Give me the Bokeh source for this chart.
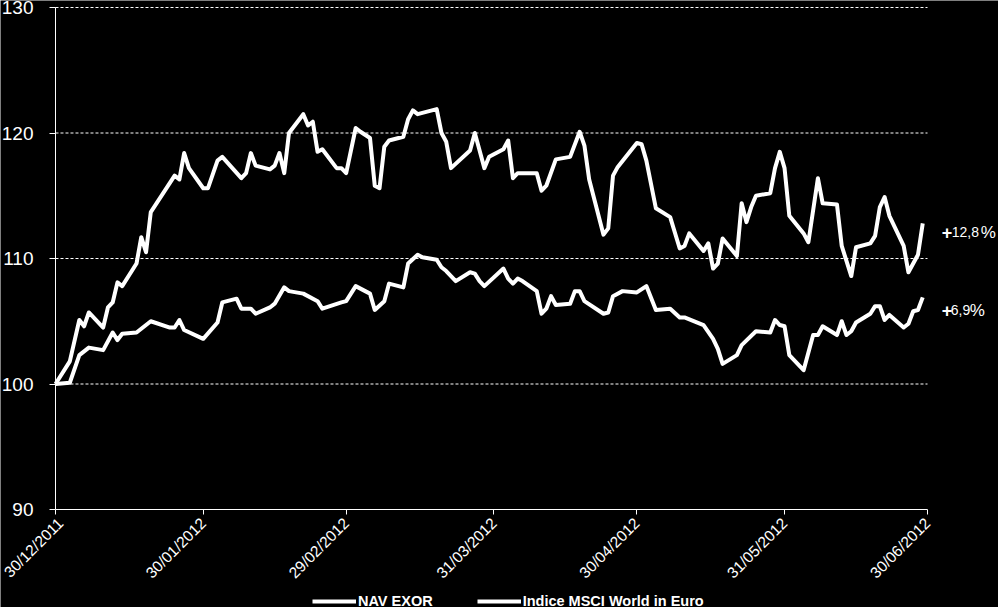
import math
import pandas as pd
from bokeh.plotting import figure
from bokeh.models import (Range1d, FixedTicker, DatetimeTickFormatter, Legend,
                          LegendItem, Label, ColumnDataSource)
from bokeh.embed import file_html
from bokeh.resources import INLINE

# ---------------- data ----------------
series_names = ["NAV EXOR", "Indice MSCI World in Euro"]

nav_dates = [
    "2011-12-30", "2012-01-02", "2012-01-04", "2012-01-05", "2012-01-06", "2012-01-09",
    "2012-01-10", "2012-01-11", "2012-01-12", "2012-01-13", "2012-01-16", "2012-01-17",
    "2012-01-18", "2012-01-19", "2012-01-24", "2012-01-25", "2012-01-26", "2012-01-27",
    "2012-01-30", "2012-01-31", "2012-02-02", "2012-02-03", "2012-02-07", "2012-02-08",
    "2012-02-09", "2012-02-10", "2012-02-13", "2012-02-14", "2012-02-15", "2012-02-16",
    "2012-02-17", "2012-02-20", "2012-02-21", "2012-02-22", "2012-02-23", "2012-02-24",
    "2012-02-27", "2012-02-28", "2012-02-29", "2012-03-02", "2012-03-03", "2012-03-05",
    "2012-03-06", "2012-03-07", "2012-03-08", "2012-03-09", "2012-03-12", "2012-03-13",
    "2012-03-14", "2012-03-15", "2012-03-19", "2012-03-20", "2012-03-21", "2012-03-22",
    "2012-03-26", "2012-03-27", "2012-03-28", "2012-03-29", "2012-03-30", "2012-04-02",
    "2012-04-03", "2012-04-04", "2012-04-05", "2012-04-09", "2012-04-10", "2012-04-11",
    "2012-04-13", "2012-04-16", "2012-04-18", "2012-04-19", "2012-04-20", "2012-04-23",
    "2012-04-24", "2012-04-25", "2012-04-26", "2012-04-30", "2012-05-01", "2012-05-02",
    "2012-05-04", "2012-05-07", "2012-05-09", "2012-05-10", "2012-05-11", "2012-05-14",
    "2012-05-15", "2012-05-16", "2012-05-17", "2012-05-18", "2012-05-21", "2012-05-22",
    "2012-05-23", "2012-05-24", "2012-05-25", "2012-05-28", "2012-05-29", "2012-05-30",
    "2012-05-31", "2012-06-01", "2012-06-04", "2012-06-05", "2012-06-07", "2012-06-08",
    "2012-06-11", "2012-06-12", "2012-06-14", "2012-06-15", "2012-06-18", "2012-06-19",
    "2012-06-20", "2012-06-21", "2012-06-22", "2012-06-25", "2012-06-26", "2012-06-28",
    "2012-06-29",
]
nav_values = [
    100.0, 101.8, 105.1, 104.6, 105.7, 104.5,
    106.1, 106.5, 108.1, 107.8, 109.6, 111.7,
    110.5, 113.7, 116.6, 116.3, 118.4, 117.2,
    115.6, 115.6, 117.8, 118.1, 116.4, 116.8,
    118.4, 117.4, 117.1, 117.4, 118.4, 116.8,
    120.0, 121.5, 120.6, 120.9, 118.5, 118.7,
    117.2, 117.2, 116.8, 120.4, 120.1, 119.6,
    115.8, 115.6, 118.9, 119.4, 119.7, 121.1,
    121.8, 121.5, 121.9, 120.0, 119.3, 117.2,
    118.6, 120.0, 118.6, 117.2, 118.1, 118.7,
    119.4, 116.4, 116.8, 116.8, 115.4, 115.8,
    117.9, 118.1, 120.1, 119.0, 116.3, 111.9,
    112.4, 116.6, 117.3, 119.2, 119.1, 117.8,
    114.0, 113.3, 110.8, 111.0, 112.0, 110.6,
    111.2, 109.2, 109.6, 111.6, 110.2, 114.4,
    112.9, 114.1, 115.0, 115.2, 117.2, 118.5,
    117.2, 113.4, 112.0, 111.3, 116.4, 114.4,
    114.3, 111.0, 108.6, 110.9, 111.2, 111.8,
    114.1, 114.9, 113.4, 111.0, 108.9, 110.3,
    112.8,
]

msci_dates = [
    "2011-12-30", "2012-01-02", "2012-01-04", "2012-01-06", "2012-01-09", "2012-01-11",
    "2012-01-12", "2012-01-13", "2012-01-16", "2012-01-19", "2012-01-23", "2012-01-24",
    "2012-01-25", "2012-01-26", "2012-01-30", "2012-02-02", "2012-02-03", "2012-02-06",
    "2012-02-07", "2012-02-09", "2012-02-10", "2012-02-13", "2012-02-14", "2012-02-16",
    "2012-02-17", "2012-02-20", "2012-02-23", "2012-02-24", "2012-02-28", "2012-02-29",
    "2012-03-02", "2012-03-05", "2012-03-06", "2012-03-08", "2012-03-09", "2012-03-12",
    "2012-03-13", "2012-03-15", "2012-03-16", "2012-03-19", "2012-03-20", "2012-03-21",
    "2012-03-23", "2012-03-26", "2012-03-27", "2012-03-28", "2012-03-29", "2012-04-02",
    "2012-04-03", "2012-04-04", "2012-04-05", "2012-04-06", "2012-04-09", "2012-04-10",
    "2012-04-11", "2012-04-12", "2012-04-13", "2012-04-16", "2012-04-17", "2012-04-18",
    "2012-04-19", "2012-04-23", "2012-04-24", "2012-04-25", "2012-04-27", "2012-04-30",
    "2012-05-02", "2012-05-04", "2012-05-07", "2012-05-09", "2012-05-10", "2012-05-14",
    "2012-05-16", "2012-05-17", "2012-05-18", "2012-05-21", "2012-05-22", "2012-05-25",
    "2012-05-28", "2012-05-29", "2012-05-30", "2012-05-31", "2012-06-01", "2012-06-04",
    "2012-06-06", "2012-06-07", "2012-06-08", "2012-06-11", "2012-06-12", "2012-06-13",
    "2012-06-14", "2012-06-15", "2012-06-18", "2012-06-19", "2012-06-20", "2012-06-21",
    "2012-06-22", "2012-06-25", "2012-06-26", "2012-06-27", "2012-06-28", "2012-06-29",
]
msci_values = [
    100.0, 100.1, 102.3, 102.9, 102.7, 104.1,
    103.5, 104.0, 104.1, 105.0, 104.5, 104.5,
    105.1, 104.3, 103.6, 104.9, 106.5, 106.8,
    106.0, 106.0, 105.6, 106.1, 106.4, 107.7,
    107.4, 107.2, 106.6, 106.0, 106.5, 106.6,
    107.8, 107.2, 105.9, 106.6, 108.0, 107.7,
    109.6, 110.3, 110.1, 109.9, 109.3, 109.0,
    108.2, 108.9, 108.8, 108.2, 107.8, 109.2,
    108.4, 108.0, 108.4, 108.2, 107.4, 105.6,
    106.0, 107.0, 106.3, 106.4, 107.4, 107.4,
    106.6, 105.6, 105.7, 107.0, 107.4, 107.3,
    107.8, 105.9, 106.0, 105.3, 105.3, 104.7,
    103.6, 102.8, 101.6, 102.3, 103.1, 104.2,
    104.1, 105.1, 104.7, 104.6, 102.3, 101.1,
    103.9, 103.9, 104.6, 103.9, 105.0, 103.9,
    104.2, 104.9, 105.6, 106.2, 106.2, 105.1,
    105.5, 104.5, 104.8, 105.8, 105.9, 106.9,
]

tick_dates = ["2011-12-30", "2012-01-30", "2012-02-29", "2012-03-31",
              "2012-04-30", "2012-05-31", "2012-06-30"]
y_ticks = [90, 100, 110, 120, 130]
end_labels = [("+", "12,8", "%"), ("+", "6,9", "%")]

# ---------------- layout (pixels) ----------------
W, H = 998, 607
PLOT_L, PLOT_R, PLOT_T, PLOT_B = 55, 927, 7, 509
FONT = "Liberation Sans"

x_start = pd.Timestamp(tick_dates[0])
x_end = pd.Timestamp(tick_dates[-1])
per_px_x = (x_end - x_start) / (PLOT_R - PLOT_L)
y_lo, y_hi = y_ticks[0], y_ticks[-1]
per_px_y = (y_hi - y_lo) / (PLOT_B - PLOT_T)

x_range = Range1d(x_start - per_px_x * PLOT_L, x_end + per_px_x * (W - PLOT_R))
y_range = Range1d(y_lo - per_px_y * (H - PLOT_B), y_hi + per_px_y * PLOT_T)

p = figure(width=W, height=H, x_axis_type="datetime",
           x_range=x_range, y_range=y_range,
           output_backend="svg", toolbar_location=None, min_border=0)
p.background_fill_color = "black"
p.border_fill_color = "black"
p.outline_line_color = None

# dashed horizontal grid lines, only across the plot area
p.xgrid.grid_line_color = None
p.ygrid.grid_line_color = None
grid_y = y_ticks[1:]
p.segment(x0=[x_start] * len(grid_y), x1=[x_end] * len(grid_y), y0=grid_y,
          y1=grid_y, line_color="white", line_width=1, line_dash="3 2")

src_nav = ColumnDataSource(dict(x=pd.to_datetime(nav_dates), y=nav_values))
src_msci = ColumnDataSource(dict(x=pd.to_datetime(msci_dates), y=msci_values))
r_nav = p.line("x", "y", source=src_nav, line_color="white", line_width=4,
               line_join="round")
r_msci = p.line("x", "y", source=src_msci, line_color="white", line_width=4,
                line_join="round")

# axes, drawn at fixed positions inside the canvas
tick_ms = [pd.Timestamp(d).value // 10**6 for d in tick_dates]
xa = p.xaxis[0]
xa.fixed_location = y_lo
xa.bounds = (tick_ms[0], tick_ms[-1])
xa.ticker = FixedTicker(ticks=tick_ms)
fmt = "%d/%m/%Y"
xa.formatter = DatetimeTickFormatter(milliseconds=fmt, seconds=fmt, minsec=fmt,
                                     minutes=fmt, hourmin=fmt, hours=fmt,
                                     days=fmt, months=fmt, years=fmt)
xa.major_label_orientation = math.pi / 4
xa.major_label_text_font = FONT
xa.major_label_text_font_size = "15.5px"
xa.major_label_text_color = "white"
xa.axis_line_color = "white"
xa.major_tick_line_color = "white"
xa.major_tick_out = 5
xa.major_tick_in = 0
xa.minor_tick_line_color = None
xa.major_label_standoff = 6

ya = p.yaxis[0]
ya.fixed_location = tick_ms[0]
ya.bounds = (y_lo, y_hi)
ya.ticker = FixedTicker(ticks=y_ticks)
ya.major_label_text_font = FONT
ya.major_label_text_font_size = "19px"
ya.major_label_text_color = "white"
ya.axis_line_color = "white"
ya.major_tick_line_color = "white"
ya.major_tick_out = 6
ya.major_tick_in = 0
ya.minor_tick_line_color = None
ya.major_label_standoff = 16

# end-of-line labels
last = [(nav_dates[-1], nav_values[-1], -9), (msci_dates[-1], msci_values[-1], -13)]
offsets = [(19, 29, 58), (19, 28, 47)]
for (d, v, dy), parts, offs in zip(last, end_labels, offsets):
    xd = pd.Timestamp(d)
    sizes = ["18px", "14px", "17px"]
    styles = ["bold", "normal", "normal"]
    for txt, ox, fs, st in zip(parts, offs, sizes, styles):
        p.add_layout(Label(x=xd, y=v, x_units="data", y_units="data", text=txt,
                           x_offset=ox, y_offset=dy, text_font=FONT,
                           text_font_size=fs, text_font_style=st,
                           text_color="white", text_align="left",
                           text_baseline="middle"))

legend = Legend(items=[LegendItem(label=series_names[0], renderers=[r_nav]),
                       LegendItem(label=series_names[1], renderers=[r_msci])],
                orientation="horizontal", location=(312, -4),
                border_line_color=None, background_fill_alpha=0,
                padding=0, margin=0, spacing=44, glyph_width=44,
                glyph_height=20, label_height=20, label_standoff=2,
                label_text_color="white", label_text_font=FONT,
                label_text_font_style="bold", label_text_font_size="14.5px")
p.add_layout(legend)

open("out.html", "w").write(file_html(p, INLINE))
